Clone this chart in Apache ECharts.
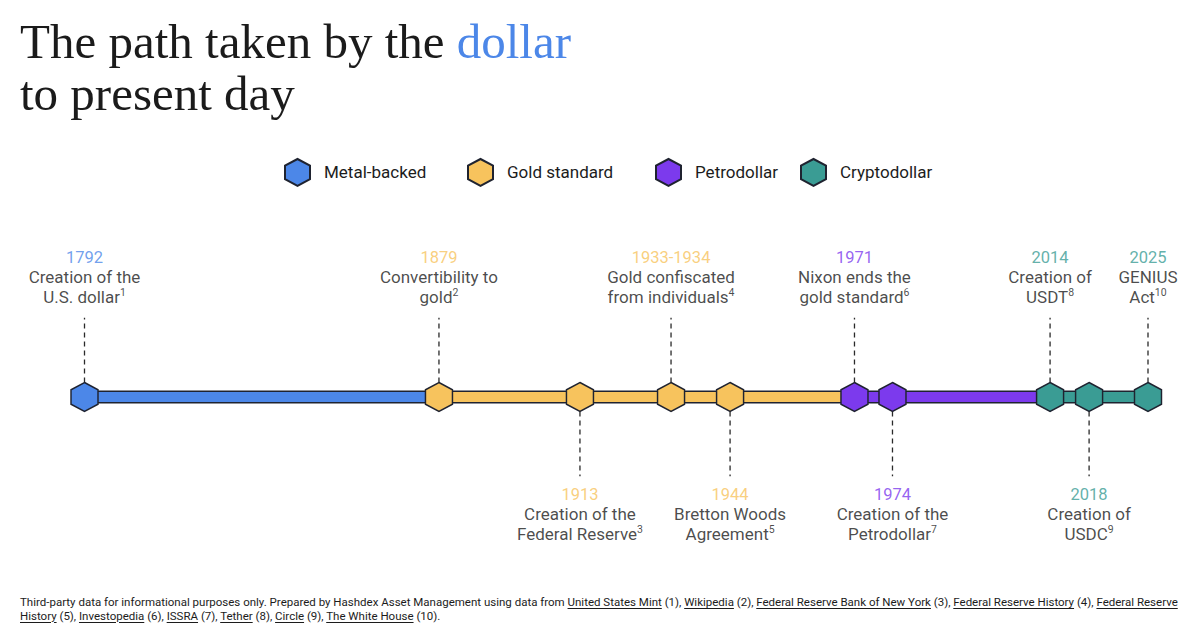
<!DOCTYPE html>
<html><head><meta charset="utf-8">
<script src="https://cdn.jsdelivr.net/npm/echarts@6.0.0/dist/echarts.min.js"></script>
<style>
html,body{margin:0;padding:0;background:#fff;}
#chart{position:absolute;left:0;top:0;width:1199px;height:627px;}
#foot{position:absolute;left:20px;top:596px;font-family:'Roboto',sans-serif;font-size:11.5px;line-height:13.5px;color:#1c1c1c;white-space:nowrap;}
#foot u{text-decoration-thickness:1px;text-underline-offset:1.5px;}
</style></head><body>
<div id="chart"></div>
<div id="foot">Third-party data for informational purposes only. Prepared by Hashdex Asset Management using data from <u>United States Mint</u> (1), <u>Wikipedia</u> (2), <u>Federal Reserve Bank of New York</u> (3), <u>Federal Reserve History</u> (4), <u>Federal Reserve</u><br><u>History</u> (5), <u>Investopedia</u> (6), <u>ISSRA</u> (7), <u>Tether</u> (8), <u>Circle</u> (9), <u>The White House</u> (10).</div>
<script>
// ---- data ----
const eraNames = ['Metal-backed', 'Gold standard', 'Petrodollar', 'Cryptodollar'];
const eraStart = [1792, 1879, 1971, 2014];
const eraEnd = [1879, 1971, 2014, 2025];
const eventYears = [1792, 1879, 1913, 1933, 1944, 1971, 1974, 2014, 2018, 2025];
const eventYearLabels = ['1792', '1879', '1913', '1933-1934', '1944', '1971', '1974', '2014', '2018', '2025'];
const eventEra = [0, 1, 1, 1, 1, 2, 2, 3, 3, 3];
const eventLine1 = ['Creation of the', 'Convertibility to', 'Creation of the', 'Gold confiscated', 'Bretton Woods', 'Nixon ends the', 'Creation of the', 'Creation of', 'Creation of', 'GENIUS'];
const eventLine2 = ['U.S. dollar', 'gold', 'Federal Reserve', 'from individuals', 'Agreement', 'gold standard', 'Petrodollar', 'USDT', 'USDC', 'Act'];
const eventNote = ['1', '2', '3', '4', '5', '6', '7', '8', '9', '10'];
const eventSide = [1, 1, -1, 1, -1, 1, -1, 1, -1, 1]; // 1 = label above, -1 = below

// ---- styles / layout ----
const eraColors = ['#4C87E8', '#F7C35D', '#7C3AED', '#3A9C94'];
const ink = '#1F2330';
const sans = 'Roboto';
const hexPath = 'path://M13.5,0 L27,7.25 L27,21.75 L13.5,29 L0,21.75 L0,7.25 Z';
// compressed stretches of the time axis (the timeline is not drawn to a linear scale)
const axisBreaks = [
  { start: 1800, end: 1859.02, gap: 0 },
  { start: 1884, end: 1906.87, gap: 0 },
  { start: 1917, end: 1929.81, gap: 0 },
  { start: 1936, end: 1942.34, gap: 0 },
  { start: 1948, end: 1965.18, gap: 0 },
  { start: 1980, end: 2007.56, gap: 0 },
  { start: 2015.5, end: 2016.42, gap: 0 },
  { start: 2020, end: 2022.35, gap: 0 }
];
const legendLeft = [284, 467, 655, 800];

const chart = echarts.init(document.getElementById('chart'), null, { renderer: 'svg' });

const rich = {
  t: { color: '#1c1c1c', fontSize: 17, lineHeight: 20, fontFamily: sans },
  s: { color: '#1c1c1c', fontSize: 10.5, lineHeight: 13, fontFamily: sans, verticalAlign: 'top' }
};
eraColors.forEach((c, i) => { rich['y' + i] = { color: c, fontSize: 16.5, lineHeight: 20, fontFamily: sans }; });

const series = [];
series.push({
  type: 'line', name: 'track', data: [[eraStart[0], 0], [eraEnd[eraEnd.length - 1], 0]],
  symbol: 'none', lineStyle: { color: ink, width: 13, cap: 'butt' }, z: 1, silent: true, clip: false
});
eraNames.forEach((n, i) => {
  series.push({
    type: 'line', name: 'era' + i, data: [[eraStart[i], 0], [eraEnd[i], 0]],
    symbol: 'none', lineStyle: { color: eraColors[i], width: 10, cap: 'butt' }, z: 2, silent: true, clip: false
  });
});
series.push({
  type: 'custom', name: 'connectors', clip: false, z: 3, silent: true,
  data: eventYears.map((y, i) => [y, eventSide[i]]),
  renderItem: function (params, api) {
    const x = api.value(0), s = api.value(1);
    const p0 = api.coord([x, s * 0.9]);
    const p1 = api.coord([x, s * 4.95]);
    return { type: 'line', shape: { x1: p0[0], y1: p0[1], x2: p1[0], y2: p1[1] },
      style: { stroke: '#2a2a2a', lineWidth: 1.3, lineDash: [5, 4] } };
  }
});
eraNames.forEach((n, i) => {
  series.push({
    type: 'scatter', name: n, symbol: hexPath, symbolSize: [27, 29], z: 5, clip: false,
    data: eventYears.map((y, k) => eventEra[k] === i ? [y, 0] : null).filter(d => d),
    itemStyle: { color: eraColors[i], borderColor: ink, borderWidth: 1.5, opacity: 1 },
    emphasis: { disabled: true }
  });
});
series.push({
  type: 'scatter', name: 'labels', symbolSize: 0, z: 6, clip: false, silent: true,
  data: eventYears.map((y, i) => ({
    value: [y, eventSide[i] > 0 ? 5.62 : -5.45],
    label: { position: eventSide[i] > 0 ? 'top' : 'bottom' }
  })),
  label: {
    show: true, distance: 0, align: 'center', rich: rich,
    formatter: function (p) {
      const i = p.dataIndex;
      return '{y' + eventEra[i] + '|' + eventYearLabels[i] + '}\n{t|' + eventLine1[i] + '}\n{t|' + eventLine2[i] + '}{s|' + eventNote[i] + '}';
    }
  }
});

const option = {
  animation: false,
  backgroundColor: '#fff',
  title: {
    text: '{a|The path taken by the }{b|dollar}\n{a|to present day}',
    left: 20, top: 15, padding: 0,
    textStyle: {
      fontWeight: 'normal',
      rich: {
        a: { fontFamily: 'Liberation Serif', fontWeight: 'normal', fontSize: 49, lineHeight: 52, color: '#1B1B1B' },
        b: { fontFamily: 'Liberation Serif', fontWeight: 'normal', fontSize: 49, lineHeight: 52, color: '#4C87E8' }
      }
    }
  },
  legend: eraNames.map((n, i) => ({
    data: [n], left: legendLeft[i], top: 158, padding: 0, icon: hexPath,
    itemWidth: 25, itemHeight: 28, selectedMode: false,
    textStyle: { fontFamily: sans, fontSize: 17, color: '#1c1c1c', padding: [0, 0, 0, 9] }
  })),
  grid: { left: 84.5, right: 51, top: 237, bottom: 70 },
  xAxis: { type: 'value', min: 1792, max: 2025, show: false, breaks: axisBreaks, breakArea: { show: false } },
  yAxis: { type: 'value', min: -10, max: 10, show: false },
  series: series
};
chart.setOption(option);
</script>
</body></html>
